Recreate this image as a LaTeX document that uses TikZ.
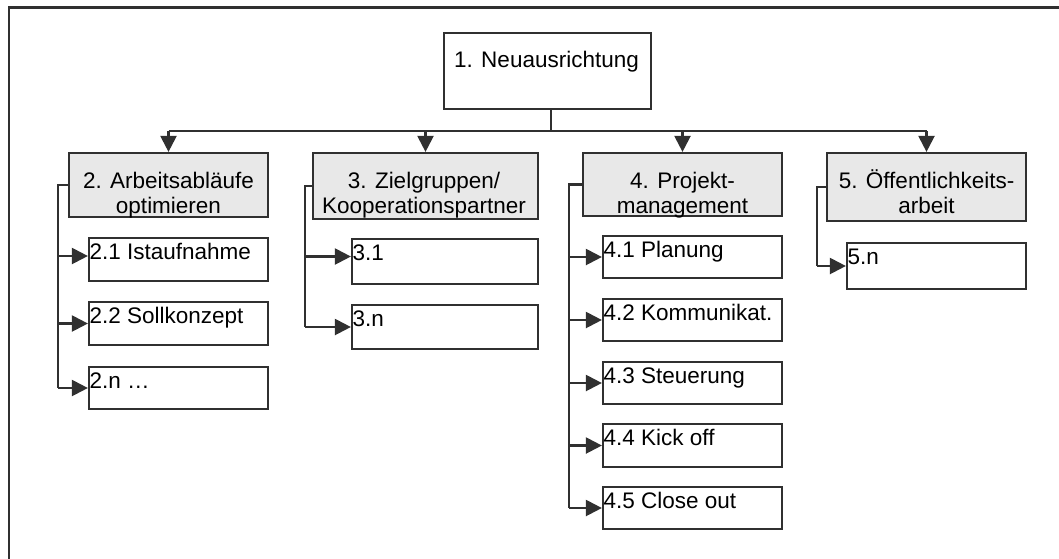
\documentclass[tikz,border=0pt]{standalone}
\usepackage{fontspec}
\setmainfont{Liberation Sans}
\usetikzlibrary{arrows.meta,calc}
\definecolor{lc}{HTML}{303030}
\definecolor{gf}{HTML}{E8E8E8}
\tikzset{
 box/.style={draw=lc, line width=2.2pt, fill=white, inner sep=0pt},
 gbox/.style={box, fill=gf},
 txt/.style={inner sep=0pt, font=\fontsize{22.5}{27}\selectfont, text=black},
 conn/.style={draw=lc, line width=2.2pt},
 arr/.style={conn, -{Triangle[length=16pt,width=16pt]}},
}
\begin{document}
\begin{tikzpicture}[x=1pt,y=-1pt]
\useasboundingbox (0,0) rectangle (1059,558);
\draw[draw=lc, line width=2.2pt] (9,7.5) rectangle (1090,590);

% boxes
\node[box, minimum width=207pt, minimum height=76pt] (root) at (547.5,71) {};
\node[gbox, minimum width=199pt, minimum height=64pt] (b2) at (168.5,185) {};
\node[gbox, minimum width=225pt, minimum height=66pt] (b3) at (425.5,186) {};
\node[gbox, minimum width=199pt, minimum height=63pt] (b4) at (682.5,184.5) {};
\node[gbox, minimum width=199pt, minimum height=68pt] (b5) at (926.5,187) {};

\node[box, minimum width=179pt, minimum height=43pt] (c21) at (178.5,259.5) {};
\node[box, minimum width=179pt, minimum height=43pt] (c22) at (178.5,323.5) {};
\node[box, minimum width=179pt, minimum height=42pt] (c2n) at (178.5,388) {};
\node[box, minimum width=186pt, minimum height=45pt] (c31) at (445,261.5) {};
\node[box, minimum width=186pt, minimum height=44pt] (c3n) at (445,327) {};
\node[box, minimum width=179pt, minimum height=42pt] (c41) at (692.5,257) {};
\node[box, minimum width=179pt, minimum height=42pt] (c42) at (692.5,320) {};
\node[box, minimum width=179pt, minimum height=42pt] (c43) at (692.5,383) {};
\node[box, minimum width=179pt, minimum height=43pt] (c44) at (692.5,445.5) {};
\node[box, minimum width=179pt, minimum height=42pt] (c45) at (692.5,508) {};
\node[box, minimum width=179pt, minimum height=46pt] (c5n) at (936.5,266) {};

% texts
\node[txt, anchor=base] (troot) at (546.5,67) {1. Neuausrichtung};
\node[txt, anchor=base] (t2a) at (168.5,188) {2. Arbeitsabläufe};
\node[txt, anchor=base] (t2b) at (168.5,213) {optimieren};
\node[txt, anchor=base] (t3a) at (424,188) {3. Zielgruppen/};
\node[txt, anchor=base] (t3b) at (424,213) {Kooperationspartner};
\node[txt, anchor=base] (t4a) at (682.5,188) {4. Projekt-};
\node[txt, anchor=base] (t4b) at (682.5,213) {management};
\node[txt, anchor=base] (t5a) at (926.5,188) {5. Öffentlichkeits-};
\node[txt, anchor=base] (t5b) at (926.5,213) {arbeit};

\foreach \c/\t in {c21/2.1 Istaufnahme, c22/2.2 Sollkonzept, c2n/2.n …,
  c31/3.1, c3n/3.n, c41/4.1 Planung, c42/4.2 Kommunikat., c43/4.3 Steuerung,
  c44/4.4 Kick off, c45/4.5 Close out, c5n/5.n}
  \node[txt, anchor=base west] (t\c) at ($(\c.north west)+(1.5,22.5)$) {\t};

% top-level connectors
\coordinate (bar) at (0,131);
\coordinate (stem) at ($(root.south)+(3.5,0)$);
\draw[conn] (stem) -- (stem |- bar);
\draw[conn] (b2.north |- bar) -- (b5.north |- bar);
\foreach \b in {b2,b3,b4,b5}
  \draw[arr] (\b.north |- bar) -- (\b.north);

% branch 2
\coordinate (v2) at (58,0);
\coordinate (a21) at ($(c21.west)+(0,-3.5)$);
\draw[conn] (b2.west) -- (b2.west -| v2) -- (v2 |- c2n.west);
\draw[arr] (v2 |- a21) -- (a21);
\draw[arr] (v2 |- c22.west) -- (c22.west);
\draw[arr] (v2 |- c2n.west) -- (c2n.west);

% branch 3
\coordinate (v3) at (305,0);
\coordinate (a31) at ($(c31.west)+(0,-5)$);
\draw[conn] (b3.west) -- (b3.west -| v3) -- (v3 |- c3n.west);
\draw[arr] (v3 |- a31) -- (a31);
\draw[arr] (v3 |- c3n.west) -- (c3n.west);

% branch 4
\coordinate (v4) at (569,0);
\draw[conn] (b4.west) -- (b4.west -| v4) -- (v4 |- c45.west);
\foreach \c in {c41,c42,c43,c44,c45}
  \draw[arr] (v4 |- \c.west) -- (\c.west);

% branch 5
\coordinate (v5) at (817,0);
\draw[conn] (b5.west) -- (b5.west -| v5) -- (v5 |- c5n.west);
\draw[arr] (v5 |- c5n.west) -- (c5n.west);
\end{tikzpicture}
\end{document}
